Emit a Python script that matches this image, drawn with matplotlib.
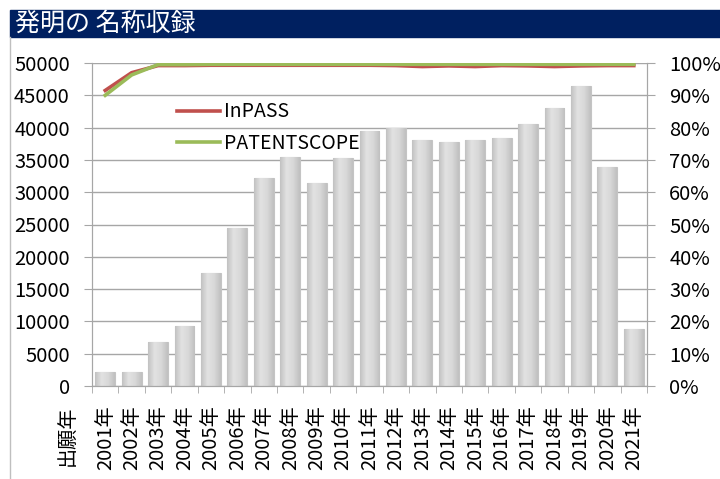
import numpy as np
import matplotlib.pyplot as plt
from matplotlib.patches import Rectangle
from matplotlib.lines import Line2D
from matplotlib.colors import LinearSegmentedColormap

plt.rcParams['font.family'] = ['Noto Sans CJK JP', 'DejaVu Sans']

# ------------------------------------------------
# data
# ------------------------------------------------
years = ["2001年", "2002年", "2003年", "2004年", "2005年", "2006年", "2007年",
         "2008年", "2009年", "2010年", "2011年", "2012年", "2013年", "2014年",
         "2015年", "2016年", "2017年", "2018年", "2019年", "2020年", "2021年"]

counts = [2200, 2100, 6800, 9300, 17500, 24500, 32200, 35400, 31400, 35300,
          39500, 40000, 38100, 37700, 38100, 38400, 40600, 43100, 46400,
          33900, 8900]

inpass = [91.5, 97.0, 99.2, 99.2, 99.3, 99.3, 99.3, 99.3, 99.3, 99.3, 99.3,
          99.2, 98.9, 99.1, 98.9, 99.2, 99.1, 98.9, 99.1, 99.2, 99.2]
patentscope = [90.0, 96.3, 99.5, 99.5, 99.6, 99.6, 99.6, 99.6, 99.6, 99.6,
               99.6, 99.6, 99.6, 99.6, 99.6, 99.6, 99.6, 99.6, 99.6, 99.6, 99.6]

title = "発明の 名称収録"
xlabel = "出願年"

# ------------------------------------------------
# figure
# ------------------------------------------------
fig = plt.figure(figsize=(7.2, 4.79), dpi=100)
W, H = 720, 479

# title bar + frame
fig.patches.append(Rectangle((10 / W, 1 - 37 / H), 1 - 10 / W, 27 / H,
                             transform=fig.transFigure, color="#002060", zorder=0))
fig.add_artist(Line2D([10 / W, 10 / W], [0, 1 - 37 / H], color="#bfbfbf", lw=1,
                      transform=fig.transFigure))
fig.text(15 / W, 1 - 24 / H, title, color="white", fontsize=18, va="center", ha="left")

ax = fig.add_axes([92 / W, 1 - 386 / H, (647 - 92) / W, (386 - 63) / H])
x = np.arange(len(years))

bars = ax.bar(x, counts, width=0.75, color="#d6d6d6", edgecolor="#c4c4c4",
              linewidth=0.8, zorder=2)

# cylinder-like shading, like the Excel bars
shade = LinearSegmentedColormap.from_list("shade", ["#c2c2c2", "#e2e2e2", "#d8d8d8", "#c0c0c0"])
grad = np.linspace(0, 1, 64).reshape(1, -1)
for b in bars:
    bx, by = b.get_x(), b.get_y()
    im = ax.imshow(grad, cmap=shade, aspect="auto", zorder=2.1,
                   extent=(bx, bx + b.get_width(), by, by + b.get_height()))
    im.set_clip_path(b)

ax.set_ylim(0, 50000)
ax.set_yticks(np.arange(0, 50001, 5000))
ax.set_xlim(-0.5, len(years) - 0.5)
ax.set_xticks(x)
ax.set_xticklabels(years, rotation=90, fontsize=14.5)
ax.set_xticks(np.arange(-0.5, len(years), 1), minor=True)
ax.tick_params(axis="x", which="major", length=0, pad=14)
ax.tick_params(axis="x", which="minor", length=5, color="#a6a6a6")
ax.tick_params(axis="y", labelsize=14.5, length=6, color="#a6a6a6", pad=10)
ax.grid(axis="y", color="#a6a6a6", lw=1, zorder=0)
ax.set_axisbelow(True)
ax.spines["top"].set_visible(False)
for s in ["left", "right", "bottom"]:
    ax.spines[s].set_color("#a6a6a6")

ax2 = ax.twinx()
ax2.plot(x, inpass, color="#c0504d", lw=2.6, label="InPASS", zorder=3)
ax2.plot(x, patentscope, color="#9bbb59", lw=2.6, label="PATENTSCOPE", zorder=4)
ax2.set_ylim(0, 100)
ax2.set_yticks(np.arange(0, 101, 10))
ax2.set_yticklabels([f"{v}%" for v in range(0, 101, 10)])
ax2.tick_params(axis="y", labelsize=14.5, length=6, color="#a6a6a6", pad=10)
ax2.spines["top"].set_visible(False)
for s in ["left", "right", "bottom"]:
    ax2.spines[s].set_color("#a6a6a6")

ax2.legend(loc="upper left", bbox_to_anchor=(0.14, 0.905), frameon=False,
           fontsize=14, handlelength=2.2, handletextpad=0.2, labelspacing=0.55,
           borderaxespad=0)

fig.text(68 / W, 1 - 406 / H, xlabel, rotation=90, fontsize=14.5, ha="center", va="top")

plt.savefig("out.png", dpi=100)
